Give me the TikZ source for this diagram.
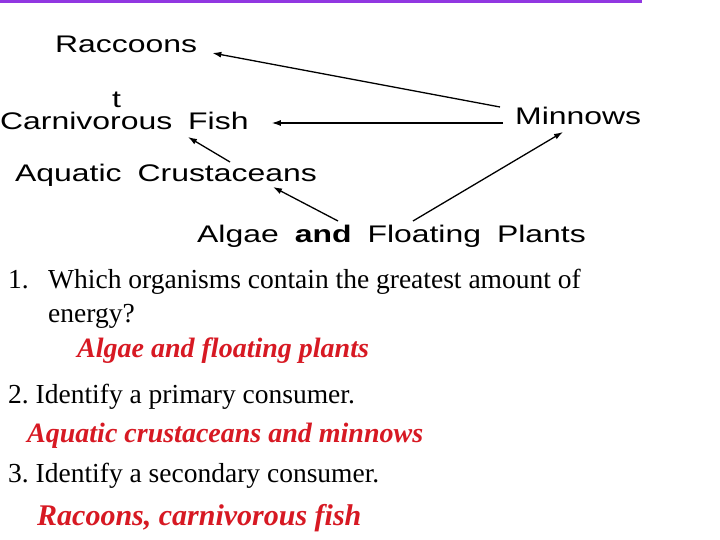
\documentclass[tikz,border=0pt]{standalone}
\usepackage{fontspec}
\setmainfont{Liberation Serif}
\newfontfamily\webfont[FakeStretch=1.33,WordSpace=1.8]{Liberation Sans}
\usepackage{tikz}
\usetikzlibrary{arrows.meta}
\usepackage{xcolor}
\definecolor{ColBar}{RGB}{145,55,225}
\definecolor{ColAns}{RGB}{215,25,35}
\tikzstyle{WebLabel}=[inner sep=0pt,anchor=base west,font=\webfont\fontsize{24}{28}\selectfont]
\tikzstyle{WebArrow}=[black,line width=1.3pt,-{Latex[length=9pt,width=6pt]}]
\tikzstyle{Question}=[inner sep=0pt,anchor=base west,font=\fontsize{27.5}{33}\selectfont]
\tikzstyle{Answer}=[inner sep=0pt,anchor=base west,text=ColAns,font=\bfseries\itshape\fontsize{28}{33}\selectfont]
\frenchspacing

\begin{document}
\begin{tikzpicture}[x=1pt,y=-1pt]
        \useasboundingbox[fill=white](0,0)rectangle(720,540);
        \fill[ColBar](0,0)rectangle(642,3);
        % food web
        \node[WebLabel](rac)at(55,53){Raccoons};
        \node[WebLabel](tee)at(112,108){t};
        \node[WebLabel](fish)at(0,130){Carnivorous Fish};
        \node[WebLabel](min)at(515,125){Minnows};
        \node[WebLabel](crus)at(15,182){Aquatic Crustaceans};
        \node[WebLabel](alg)at(197,243){Algae {\bfseries and} Floating Plants};
        \draw[WebArrow]([xshift=-15pt,yshift=18pt]min.base west)--([xshift=15pt]rac.base east);
        \draw[WebArrow]([xshift=-12pt,yshift=2pt]min.base west)--([xshift=23pt,yshift=7pt]fish.base east);
        \draw[WebArrow]([xshift=215pt,yshift=20pt]crus.base west)--([xshift=188pt,yshift=-7pt]fish.base west);
        \draw[WebArrow]([xshift=141pt,yshift=22pt]alg.base west)--([xshift=258pt,yshift=-5pt]crus.base west);
        \draw[WebArrow]([xshift=216pt,yshift=22pt]alg.base west)--([xshift=48pt,yshift=-7pt]min.base west);
        % questions
        \node[Question](n1)at(8,288){1.};
        \node[Question](q1)at(48,288){Which organisms contain the greatest amount of};
        \node[Question](q1b)at(48,322){energy?};
        \node[Answer](a1)at(77,357){Algae and floating plants};
        \node[Question](q2)at(8,403){2. Identify a primary consumer.};
        \node[Answer](a2)at(27,442){Aquatic crustaceans and minnows};
        \node[Question](q3)at(8,482){3. Identify a secondary consumer.};
        \node[Answer,font=\bfseries\itshape\fontsize{30}{36}\selectfont](a3)at(37,525){Racoons, carnivorous fish};
    \end{tikzpicture}
\end{document}
